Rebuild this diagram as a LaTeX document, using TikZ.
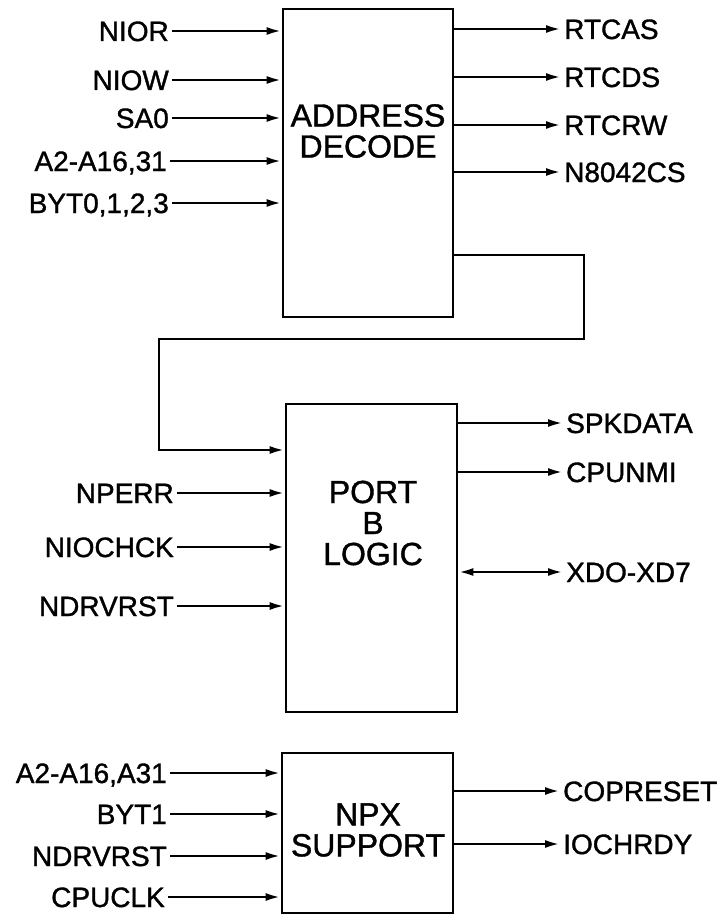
\documentclass[tikz,border=0pt]{standalone}
\usepackage{fontspec}
\setmainfont{Liberation Sans}[FakeBold=1.2]
\usetikzlibrary{arrows.meta}
\tikzset{
  blk/.style={draw,line width=2.8pt,inner sep=0pt},
  boxtxt/.style={align=center,inner sep=0pt,font=\fontsize{32}{31}\selectfont},
  lab/.style={inner sep=3pt,text height=20pt,text depth=0pt,font=\fontsize{28}{30}\selectfont},
  inlab/.style={lab,anchor=east},
  outlab/.style={lab,anchor=west},
  sig/.style={line width=2.6pt,-{Latex[length=15pt,width=8pt]}},
  bus/.style={line width=2.6pt,{Latex[length=15pt,width=8pt]}-{Latex[length=15pt,width=8pt]}}
}
\begin{document}
\begin{tikzpicture}[x=1pt,y=-1pt]
  \useasboundingbox (0,0) rectangle (725,915);
  % blocks
  \node[blk,minimum width=170pt,minimum height=308pt](adec) at (368,163) {};
  \node[blk,minimum width=171pt,minimum height=308pt](portb) at (371.5,558) {};
  \node[blk,minimum width=171pt,minimum height=160pt](npx) at (367.5,833) {};
  \node[boxtxt](adectxt) at (368,131) {ADDRESS\\DECODE};
  \node[boxtxt](portbtxt) at (373,523) {PORT\\B\\LOGIC};
  \node[boxtxt](npxtxt) at (368,830) {NPX\\SUPPORT};
  % address decode
  \node[inlab](nior) at (172,31) {NIOR};
  \node[inlab](niow) at (172,80) {NIOW};
  \node[inlab](sazero) at (172,118) {SA0};
  \node[inlab](addra) at (170,161) {A2-A16,31};
  \node[inlab](byta) at (172,203) {BYT0,1,2,3};
  \draw[sig](nior.east)--(nior.east-|adec.west);
  \draw[sig](niow.east)--(niow.east-|adec.west);
  \draw[sig](sazero.east)--(sazero.east-|adec.west);
  \draw[sig](addra.east)--(addra.east-|adec.west);
  \draw[sig](byta.east)--(byta.east-|adec.west);
  \node[outlab](rtcas) at (561,29) {RTCAS};
  \node[outlab](rtcds) at (561,77) {RTCDS};
  \node[outlab](rtcrw) at (561,125) {RTCRW};
  \node[outlab](kbdcs) at (561,172) {N8042CS};
  \draw[sig](rtcas.west-|adec.east)--(rtcas.west);
  \draw[sig](rtcds.west-|adec.east)--(rtcds.west);
  \draw[sig](rtcrw.west-|adec.east)--(rtcrw.west);
  \draw[sig](kbdcs.west-|adec.east)--(kbdcs.west);
  % link to port b
  \coordinate(lnka) at (584,255);
  \coordinate(lnkb) at (584,339);
  \coordinate(lnkc) at (159,339);
  \coordinate(lnkd) at (159,450);
  \draw[sig](adec.east|-lnka)--(lnka)--(lnkb)--(lnkc)--(lnkd)--(portb.west|-lnkd);
  % port b logic
  \node[inlab](nperr) at (177,493) {NPERR};
  \node[inlab](niochck) at (177,547) {NIOCHCK};
  \node[inlab](ndrva) at (177,606) {NDRVRST};
  \draw[sig](nperr.east)--(nperr.east-|portb.west);
  \draw[sig](niochck.east)--(niochck.east-|portb.west);
  \draw[sig](ndrva.east)--(ndrva.east-|portb.west);
  \node[outlab](spkdata) at (563,423) {SPKDATA};
  \node[outlab](cpunmi) at (563,472) {CPUNMI};
  \node[outlab](xdata) at (563,572) {XDO-XD7};
  \draw[sig](spkdata.west-|portb.east)--(spkdata.west);
  \draw[sig](cpunmi.west-|portb.east)--(cpunmi.west);
  \draw[bus](xdata.west-|portb.east)--(xdata.west);
  % npx support
  \node[inlab](addrb) at (170,773) {A2-A16,A31};
  \node[inlab](bytb) at (170,814) {BYT1};
  \node[inlab](ndrvb) at (170,856) {NDRVRST};
  \node[inlab](cpuclk) at (168,897) {CPUCLK};
  \draw[sig](addrb.east)--(addrb.east-|npx.west);
  \draw[sig](bytb.east)--(bytb.east-|npx.west);
  \draw[sig](ndrvb.east)--(ndrvb.east-|npx.west);
  \draw[sig](cpuclk.east)--(cpuclk.east-|npx.west);
  \node[outlab](copreset) at (560,791) {COPRESET};
  \node[outlab](iochrdy) at (560,844) {IOCHRDY};
  \draw[sig](copreset.west-|npx.east)--(copreset.west);
  \draw[sig](iochrdy.west-|npx.east)--(iochrdy.west);
\end{tikzpicture}
\end{document}
